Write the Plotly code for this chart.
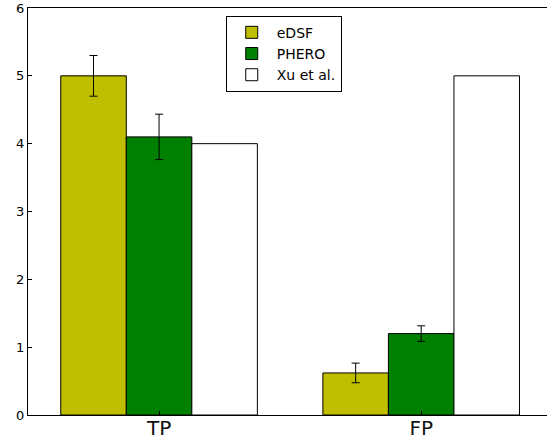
import plotly.graph_objects as go

categories = ["TP", "FP"]
series_names = ["eDSF", "PHERO", "Xu et al."]
edsf_vals = [5.0, 0.62]
edsf_err = [0.30, 0.145]
phero_vals = [4.1, 1.2]
phero_err = [0.335, 0.115]
xu_vals = [4.0, 5.0]
y_ticks = [0, 1, 2, 3, 4, 5, 6]

colors = ["#bfbf00", "#008000", "#ffffff"]

fig = go.Figure()
for name, vals, err, col in [
    (series_names[0], edsf_vals, edsf_err, colors[0]),
    (series_names[1], phero_vals, phero_err, colors[1]),
    (series_names[2], xu_vals, None, colors[2]),
]:
    fig.add_trace(go.Bar(
        x=categories, y=vals, name=name,
        marker=dict(color=col, line=dict(color="black", width=1)),
        error_y=(dict(type="data", array=err, color="black", thickness=1, width=4)
                 if err is not None else dict(visible=False)),
    ))

fig.update_layout(
    width=547, height=436,
    margin=dict(l=28, r=0, t=8, b=21, autoexpand=False),
    barmode="group", bargap=0.25, bargroupgap=0,
    plot_bgcolor="white", paper_bgcolor="white",
    font=dict(family="DejaVu Sans", color="black"),
    showlegend=True,
    legend=dict(
        x=0.381, y=0.981, xanchor="left", yanchor="top",
        bgcolor="white", bordercolor="black", borderwidth=1,
        font=dict(size=14), itemwidth=40, tracegroupgap=0,
    ),
    xaxis=dict(
        type="category", range=[-0.5, 1.48], automargin=False,
        showline=True, linecolor="black", linewidth=1, mirror=True,
        ticks="inside", ticklen=4, tickcolor="black", ticklabelstandoff=-5,
        tickfont=dict(size=20, color="#111111"), showgrid=False, zeroline=False,
    ),
    yaxis=dict(
        range=[0, 6], tickvals=y_ticks, automargin=False,
        showline=True, linecolor="black", linewidth=1, mirror=True,
        ticks="inside", ticklen=4, tickcolor="black",
        tickfont=dict(size=13), showgrid=False, zeroline=False,
    ),
)

fig.write_html("out.html", config={"displayModeBar": False},
               post_script="document.body.style.margin='0';")
